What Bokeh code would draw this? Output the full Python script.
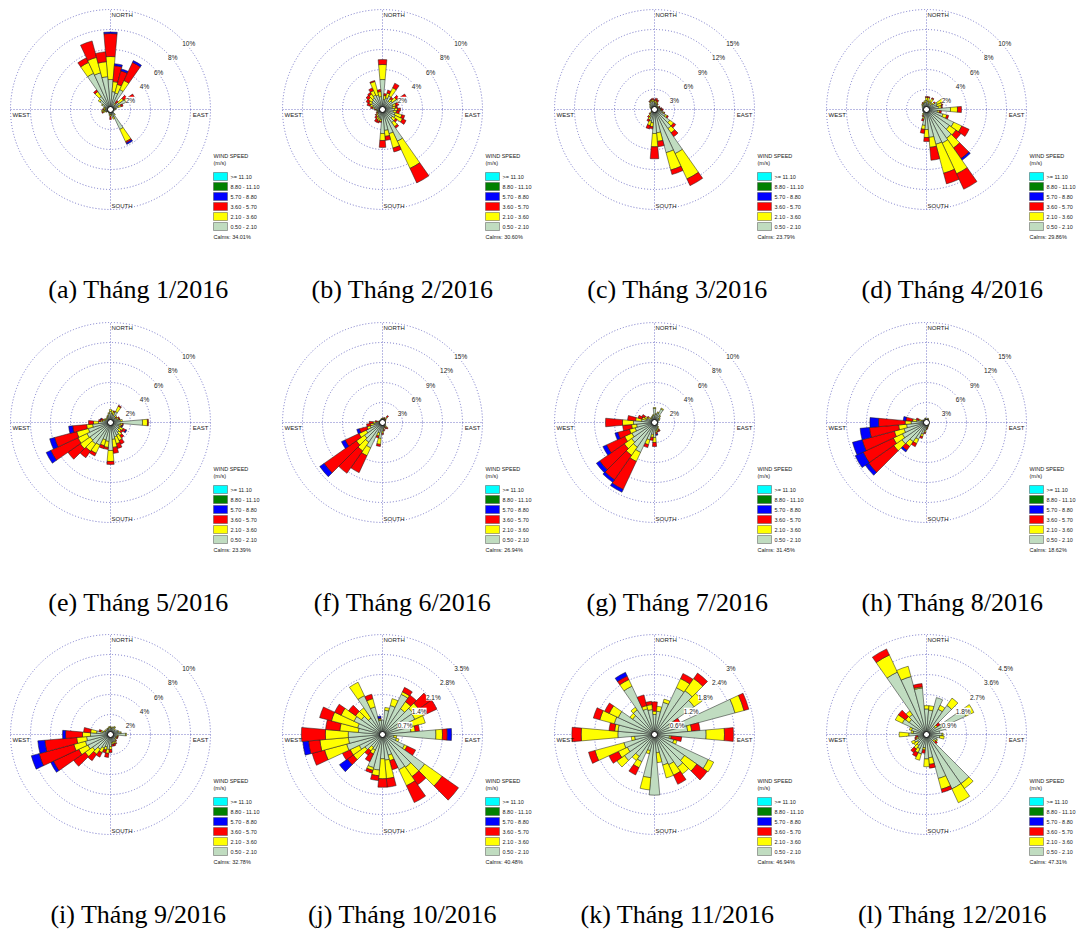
import math
from bokeh.plotting import figure
from bokeh.models import Range1d
from bokeh.core.properties import value
from bokeh.embed import file_html
from bokeh.resources import INLINE

# ---------------- data ----------------
LETTERS = ["a", "b", "c", "d", "e", "f", "g", "h", "i", "j", "k", "l"]
MONTHS = ["1/2016", "2/2016", "3/2016", "4/2016", "5/2016", "6/2016",
          "7/2016", "8/2016", "9/2016", "10/2016", "11/2016", "12/2016"]
CALMS = ["34.01%", "30.60%", "23.79%", "29.86%", "23.39%", "26.94%",
         "31.45%", "18.62%", "32.78%", "40.48%", "46.94%", "47.31%"]
RING_STEP = [2, 2, 3, 2, 2, 3, 2, 3, 2, 0.7, 0.6, 0.9]
LEGEND_LABELS = [">= 11.10", "8.80 - 11.10", "5.70 - 8.80",
                 "3.60 - 5.70", "2.10 - 3.60", "0.50 - 2.10"]
LEGEND_COLORS = ["#00FFFF", "#008000", "#0000FF", "#FF0000", "#FFFF00", "#C0DCC0"]
# speed classes drawn outward: 0.50-2.10, 2.10-3.60, 3.60-5.70, 5.70-8.80
CLASS_COLORS = ["#C0DCC0", "#FFFF00", "#FF0000", "#0000FF"]

# (direction deg, 0.5-2.1, 2.1-3.6, 3.6-5.7, 5.7-8.8) frequency %
JAN = [(0, 3.0, 2.3, 2.3, 0.15), (10, 1.8, 1.0, 1.6, 0.2), (20, 1.7, 0.9, 1.4, 0.2),
       (30, 2.2, 1.0, 2.0, 0.2), (40, 0.6, 0.2, 0.3, 0), (50, 1.0, 0.6, 0.4, 0),
       (60, 1.7, 0.2, 0.8, 0), (70, 0.8, 0.3, 0.2, 0), (80, 0.5, 0.1, 0, 0),
       (90, 0.4, 0.1, 0, 0), (100, 0.4, 0, 0, 0), (110, 0.3, 0, 0, 0),
       (120, 0.3, 0, 0, 0), (130, 0.4, 0, 0, 0), (140, 0.6, 0.1, 0, 0),
       (150, 2.2, 1.35, 0.15, 0.15), (160, 0.8, 0.2, 0, 0), (170, 0.5, 0.1, 0, 0),
       (180, 0.5, 0.2, 0.3, 0), (190, 0.5, 0.1, 0, 0), (200, 0.4, 0, 0, 0),
       (210, 0.3, 0.1, 0, 0), (220, 0.3, 0, 0, 0), (230, 0.3, 0, 0, 0),
       (240, 0.4, 0.1, 0, 0), (250, 0.5, 0.3, 0.1, 0), (260, 0.6, 0.3, 0, 0),
       (270, 0.5, 0.2, 0.1, 0), (280, 0.5, 0.2, 0, 0), (290, 0.6, 0.1, 0, 0),
       (300, 0.9, 0.1, 0, 0), (310, 1.3, 0.2, 0, 0), (320, 1.6, 0.6, 0.2, 0),
       (330, 4.0, 1.2, 0.5, 0), (340, 3.8, 1.6, 1.7, 0), (350, 3.3, 1.5, 1.0, 0)]
FEB = [(0, 3.0, 1.5, 0.5, 0), (10, 1.0, 0.4, 0.2, 0), (20, 1.2, 0.5, 0.3, 0),
       (30, 1.5, 0.9, 0.5, 0), (40, 1.0, 0.3, 0.2, 0), (50, 1.2, 0.5, 0.3, 0),
       (60, 1.8, 0.3, 0.6, 0), (70, 1.1, 0.3, 0.3, 0), (80, 1.0, 0.3, 0.2, 0),
       (90, 1.2, 0.3, 0.3, 0), (100, 1.1, 0.3, 0.3, 0), (110, 1.3, 0.7, 0.3, 0),
       (120, 1.4, 0.8, 0.4, 0), (130, 1.2, 0.4, 0.2, 0), (140, 1.6, 0.5, 0.2, 0),
       (150, 3.5, 3.0, 1.6, 0), (160, 2.5, 1.5, 0.4, 0), (170, 2.1, 0.6, 0.4, 0),
       (180, 2.4, 0.7, 0.7, 0), (190, 1.0, 0.2, 0.1, 0), (200, 0.9, 0.3, 0.2, 0),
       (210, 0.8, 0.3, 0.3, 0), (220, 0.7, 0.2, 0.2, 0), (230, 0.6, 0.2, 0.1, 0),
       (240, 0.5, 0.1, 0.1, 0), (250, 0.5, 0.1, 0, 0), (260, 0.5, 0.1, 0, 0),
       (270, 0.6, 0.1, 0.1, 0), (280, 0.8, 0.2, 0.2, 0), (290, 1.0, 0.3, 0.3, 0),
       (300, 1.2, 0.3, 0.3, 0), (310, 1.3, 0.4, 0.3, 0), (320, 1.4, 0.5, 0.2, 0),
       (330, 1.6, 0.5, 0.3, 0), (340, 1.5, 1.4, 0.1, 0), (350, 1.3, 0.5, 0.2, 0)]
MAR = [(0, 1.0, 0.3, 0.2, 0), (10, 1.0, 0.4, 0.3, 0), (20, 0.9, 0.3, 0.3, 0),
       (30, 0.7, 0.2, 0.1, 0), (40, 0.6, 0.1, 0, 0), (50, 0.5, 0.1, 0, 0),
       (60, 0.7, 0.1, 0.1, 0), (70, 0.6, 0.1, 0.1, 0), (80, 0.8, 0.1, 0.2, 0),
       (90, 0.9, 0.1, 0.3, 0), (100, 0.9, 0.2, 0.1, 0), (110, 1.3, 0.2, 0.1, 0),
       (120, 1.8, 0.3, 0.2, 0), (130, 2.8, 0.7, 0.4, 0), (140, 3.5, 0.8, 0.7, 0),
       (150, 7.3, 4.2, 1.1, 0), (160, 6.7, 2.7, 0.7, 0), (170, 3.5, 1.3, 0.8, 0),
       (180, 3.6, 2.0, 1.8, 0), (190, 2.0, 0.6, 0.3, 0), (200, 1.8, 0.7, 0.5, 0),
       (210, 1.3, 0.4, 0.3, 0), (220, 1.0, 0.3, 0.2, 0), (230, 0.7, 0.2, 0.1, 0),
       (240, 0.5, 0.1, 0, 0), (250, 0.5, 0, 0, 0), (260, 0.4, 0, 0, 0),
       (270, 0.5, 0, 0, 0), (280, 0.5, 0, 0, 0), (290, 0.6, 0.1, 0, 0),
       (300, 0.7, 0.1, 0, 0), (310, 0.8, 0.1, 0, 0), (320, 1.0, 0.1, 0, 0),
       (330, 1.2, 0.2, 0.1, 0), (340, 1.3, 0.2, 0.1, 0), (350, 1.2, 0.3, 0.2, 0)]
APR = [(0, 0.9, 0.3, 0.1, 0), (10, 0.8, 0.4, 0.1, 0), (20, 0.6, 0.3, 0, 0),
       (30, 0.8, 0.4, 0.1, 0), (40, 0.6, 0.2, 0, 0), (50, 0.8, 0.2, 0.1, 0),
       (60, 1.2, 0.8, 0, 0), (70, 1.1, 0.5, 0.1, 0), (80, 1.2, 0.3, 0.1, 0),
       (90, 2.4, 0.7, 0.4, 0), (100, 1.1, 0.2, 0.2, 0), (110, 1.7, 0.4, 0.2, 0),
       (120, 3.0, 0.9, 0.8, 0), (130, 2.8, 0.8, 0.6, 0), (140, 3.5, 1.2, 1.3, 0.2),
       (150, 3.7, 3.4, 1.7, 0), (160, 3.6, 3.0, 1.1, 0), (170, 2.8, 1.0, 1.3, 0),
       (180, 2.0, 0.8, 0.4, 0), (190, 1.6, 0.4, 0.4, 0), (200, 0.8, 0.2, 0.2, 0),
       (210, 0.6, 0.1, 0.1, 0), (220, 0.5, 0.1, 0, 0), (230, 0.4, 0, 0, 0),
       (240, 0.4, 0, 0, 0), (250, 0.4, 0, 0, 0), (260, 0.4, 0, 0, 0),
       (270, 0.4, 0, 0, 0), (280, 0.4, 0, 0, 0), (290, 0.4, 0, 0, 0),
       (300, 0.5, 0, 0, 0), (310, 0.5, 0.1, 0, 0), (320, 0.6, 0.1, 0, 0),
       (330, 0.6, 0.1, 0.1, 0), (340, 0.7, 0.1, 0, 0), (350, 0.7, 0.2, 0, 0)]
MAY = [(0, 1.1, 0.2, 0, 0), (10, 0.9, 0.3, 0, 0), (20, 0.8, 0.3, 0.1, 0),
       (30, 1.2, 0.6, 0.1, 0), (40, 0.7, 0.2, 0, 0), (50, 0.6, 0.1, 0.1, 0),
       (60, 0.7, 0.2, 0.1, 0), (70, 0.8, 0.1, 0.1, 0), (80, 1.0, 0.2, 0, 0),
       (90, 3.2, 0.5, 0.1, 0), (100, 1.0, 0.2, 0.1, 0), (110, 0.9, 0.2, 0.1, 0.05),
       (120, 1.0, 0.4, 0.3, 0.1), (130, 1.0, 0.3, 0.2, 0), (140, 1.2, 0.4, 0.3, 0),
       (150, 1.4, 0.6, 0.4, 0), (160, 1.5, 0.7, 0.5, 0), (170, 1.7, 0.8, 0.6, 0),
       (180, 2.8, 1.1, 0.3, 0), (190, 1.9, 0.6, 0.2, 0), (200, 1.8, 0.6, 0.3, 0),
       (210, 2.5, 0.9, 0.3, 0), (220, 2.6, 0.9, 0.8, 0), (230, 2.5, 1.2, 1.5, 0),
       (240, 2.6, 1.0, 3.0, 0.5), (250, 2.3, 1.2, 2.3, 0.5), (260, 1.8, 0.6, 1.4, 0.4),
       (270, 1.2, 0.5, 0.5, 0), (280, 0.8, 0.2, 0.2, 0), (290, 0.6, 0.2, 0.2, 0.05),
       (300, 0.6, 0.1, 0, 0), (310, 0.5, 0.1, 0, 0), (320, 0.5, 0.1, 0, 0),
       (330, 0.6, 0.1, 0, 0), (340, 0.7, 0.1, 0, 0), (350, 0.9, 0.1, 0, 0)]
JUN = [(0, 0.6, 0.1, 0, 0), (10, 0.5, 0.1, 0, 0), (20, 0.6, 0.1, 0.1, 0),
       (30, 0.5, 0.1, 0.1, 0), (40, 0.7, 0.3, 0.3, 0), (50, 0.5, 0.1, 0.1, 0),
       (60, 0.4, 0.1, 0, 0), (70, 0.4, 0, 0, 0), (80, 0.3, 0, 0, 0),
       (90, 0.4, 0, 0, 0), (100, 0.3, 0, 0, 0), (110, 0.3, 0, 0, 0),
       (120, 0.4, 0, 0, 0), (130, 0.5, 0.1, 0, 0), (140, 0.8, 0.2, 0.2, 0),
       (150, 0.7, 0.2, 0.2, 0), (160, 0.6, 0.1, 0.1, 0), (170, 0.9, 0.2, 0.2, 0),
       (180, 1.3, 0.3, 0.2, 0), (190, 2.4, 0.9, 0.3, 0), (200, 1.6, 0.5, 0.3, 0),
       (210, 4.2, 1.3, 2.8, 0), (220, 3.6, 1.6, 4.1, 0), (230, 3.3, 1.5, 5.9, 0.8),
       (240, 2.7, 1.2, 2.3, 0.6), (250, 1.9, 0.5, 1.2, 0.4), (260, 1.3, 0.5, 0.6, 0),
       (270, 1.0, 0.4, 0.6, 0), (280, 0.6, 0.2, 0.3, 0), (290, 0.5, 0.1, 0, 0),
       (300, 0.4, 0.1, 0, 0), (310, 0.4, 0, 0, 0), (320, 0.4, 0, 0, 0),
       (330, 0.5, 0, 0, 0), (340, 0.5, 0.1, 0, 0), (350, 0.5, 0.1, 0, 0)]
JUL = [(0, 1.4, 0.1, 0, 0), (10, 0.8, 0.1, 0, 0), (20, 1.0, 0.1, 0, 0),
       (30, 1.5, 0.1, 0, 0), (40, 0.8, 0.1, 0, 0), (50, 0.6, 0.1, 0, 0),
       (60, 0.5, 0.1, 0, 0), (70, 0.4, 0, 0, 0), (80, 0.3, 0, 0, 0),
       (90, 0.4, 0, 0, 0), (100, 0.3, 0, 0, 0), (110, 0.3, 0, 0, 0),
       (120, 0.4, 0, 0, 0), (130, 0.4, 0, 0, 0), (140, 0.5, 0.1, 0, 0),
       (150, 0.6, 0.2, 0.2, 0), (160, 0.7, 0.2, 0.1, 0), (170, 0.8, 0.2, 0.2, 0.1),
       (180, 1.5, 0.5, 0.4, 0), (190, 1.2, 0.3, 0.3, 0), (200, 1.8, 0.5, 0.3, 0),
       (210, 3.3, 1.0, 3.1, 0.3), (220, 3.0, 1.0, 3.0, 0.3), (230, 2.8, 0.9, 3.0, 0.4),
       (240, 2.5, 0.8, 2.0, 0.4), (250, 2.0, 0.6, 1.2, 0.3), (260, 1.8, 0.5, 0.9, 0),
       (270, 2.1, 1.1, 1.7, 0), (280, 1.3, 0.6, 0.8, 0), (290, 0.9, 0.4, 0.4, 0),
       (300, 0.8, 0.3, 0.3, 0), (310, 0.6, 0.2, 0.1, 0), (320, 0.5, 0.1, 0, 0),
       (330, 0.5, 0.1, 0, 0), (340, 0.6, 0.1, 0, 0), (350, 0.7, 0.1, 0, 0)]
AUG = [(0, 0.5, 0, 0, 0), (10, 0.5, 0, 0, 0), (20, 0.6, 0.1, 0, 0),
       (30, 0.5, 0.1, 0, 0), (40, 0.4, 0, 0, 0), (50, 0.4, 0, 0, 0),
       (60, 0.4, 0, 0, 0), (70, 0.3, 0, 0, 0), (80, 0.3, 0, 0, 0),
       (90, 0.3, 0, 0, 0), (100, 0.3, 0, 0, 0), (110, 0.3, 0, 0, 0),
       (120, 0.3, 0, 0, 0), (130, 0.3, 0, 0, 0), (140, 0.4, 0.1, 0, 0),
       (150, 0.5, 0.1, 0, 0), (160, 0.6, 0.1, 0, 0), (170, 0.7, 0.1, 0.1, 0),
       (180, 0.8, 0.2, 0.1, 0), (190, 1.2, 0.3, 0.2, 0), (200, 1.8, 0.4, 0.3, 0),
       (210, 2.8, 0.7, 0.5, 0), (220, 3.5, 0.9, 0.7, 0.3), (230, 4.5, 1.5, 4.6, 0.6),
       (240, 4.0, 1.5, 5.0, 1.3), (250, 3.5, 1.5, 5.0, 1.5), (260, 3.0, 1.2, 4.4, 1.4),
       (270, 2.3, 0.9, 4.0, 1.3), (280, 1.5, 0.6, 1.0, 0.4), (290, 0.8, 0.4, 0.4, 0),
       (300, 0.6, 0.1, 0, 0), (310, 0.5, 0.1, 0, 0), (320, 0.5, 0, 0, 0),
       (330, 0.5, 0, 0, 0), (340, 0.6, 0.1, 0, 0), (350, 0.6, 0.1, 0, 0)]
SEP = [(0, 0.7, 0.1, 0, 0), (10, 0.6, 0.1, 0, 0), (20, 0.7, 0.1, 0, 0),
       (30, 0.8, 0.1, 0, 0), (40, 0.6, 0.1, 0, 0), (50, 0.6, 0, 0, 0),
       (60, 0.8, 0, 0, 0), (70, 0.8, 0.1, 0, 0), (80, 1.0, 0.1, 0, 0),
       (90, 1.5, 0.1, 0, 0), (100, 0.7, 0.1, 0, 0), (110, 0.6, 0.1, 0.1, 0),
       (120, 0.6, 0.1, 0.1, 0), (130, 0.6, 0.1, 0, 0), (140, 0.7, 0.1, 0.1, 0),
       (150, 0.8, 0.2, 0.1, 0), (160, 0.8, 0.2, 0.2, 0), (170, 0.8, 0.2, 0.2, 0),
       (180, 1.2, 0.3, 0.3, 0), (190, 1.5, 0.4, 0.4, 0), (200, 1.3, 0.3, 0.3, 0),
       (210, 1.5, 0.5, 0.5, 0), (220, 1.8, 0.6, 0.8, 0), (230, 2.2, 0.9, 1.4, 0),
       (240, 2.5, 1.0, 2.8, 0.3), (250, 2.6, 1.2, 3.6, 0.8), (260, 2.4, 1.0, 3.2, 0.7),
       (270, 2.0, 0.8, 1.7, 0.3), (280, 1.4, 0.6, 0.7, 0), (290, 0.8, 0.2, 0.2, 0),
       (300, 0.6, 0.1, 0, 0), (310, 0.6, 0.1, 0, 0), (320, 0.6, 0, 0, 0),
       (330, 0.6, 0.1, 0, 0), (340, 0.6, 0.1, 0, 0), (350, 0.7, 0.1, 0, 0)]
OCT = [(0, 0.5, 0, 0, 0), (10, 0.85, 0.1, 0, 0), (20, 1.05, 0.25, 0, 0),
       (30, 1.55, 0.1, 0.17, 0), (40, 1.1, 0.3, 0.28, 0), (50, 1.3, 0.25, 0.5, 0),
       (60, 1.25, 0.35, 0.5, 0), (70, 1.0, 0.55, 0, 0), (80, 1.0, 0.15, 0.15, 0),
       (90, 1.87, 0.23, 0.17, 0.15), (100, 0.4, 0.1, 0, 0), (110, 0.5, 0.1, 0, 0),
       (120, 0.85, 0.1, 0.33, 0), (130, 1.8, 0.75, 0.7, 0), (140, 1.4, 0.4, 0.35, 0),
       (150, 1.36, 0.62, 0.65, 0), (160, 0.75, 0.2, 0.33, 0), (170, 0.9, 0.65, 0.3, 0),
       (180, 0.85, 0.7, 0.3, 0), (190, 1.25, 0.2, 0.17, 0), (200, 1.2, 0.1, 0.1, 0),
       (210, 0.6, 0.15, 0.3, 0), (220, 0.55, 0.15, 0.18, 0), (230, 0.75, 0.5, 0.25, 0.34),
       (240, 0.9, 0.35, 0.3, 0), (250, 1.3, 0.8, 0.45, 0), (260, 1.2, 1.0, 0.4, 0.2),
       (270, 1.2, 0.8, 0.84, 0), (280, 0.85, 0.65, 0.5, 0), (290, 0.9, 0.95, 0.43, 0),
       (300, 1.1, 0.5, 0.25, 0), (310, 0.9, 0.25, 0.3, 0), (320, 0.7, 0.44, 0, 0),
       (330, 1.5, 0.52, 0, 0), (340, 1.0, 0.3, 0.16, 0), (350, 0.5, 0.05, 0.03, 0.07)]
NOV = [(0, 0.6, 0.1, 0.28, 0), (10, 0.7, 0.15, 0, 0), (20, 1.0, 0.1, 0, 0),
       (30, 1.55, 0.3, 0.17, 0), (40, 1.6, 0.45, 0.2, 0), (50, 1.45, 0.3, 0, 0),
       (60, 0.6, 0.1, 0.15, 0), (70, 2.5, 0.28, 0.15, 0), (80, 1.0, 0.12, 0.25, 0),
       (90, 1.55, 0.55, 0.27, 0), (100, 0.45, 0.05, 0.32, 0), (110, 0.6, 0.1, 0, 0),
       (120, 1.78, 0.18, 0, 0), (130, 1.1, 0.45, 0.38, 0), (140, 1.2, 0.25, 0, 0),
       (150, 1.0, 0.35, 0.3, 0), (160, 0.95, 0.4, 0, 0), (170, 0.55, 0.3, 0, 0),
       (180, 1.82, 0, 0, 0), (190, 1.3, 0.37, 0, 0), (200, 0.5, 0.1, 0, 0),
       (210, 0.9, 0.2, 0.24, 0), (220, 0.8, 0.15, 0, 0), (230, 1.1, 0.28, 0, 0),
       (240, 0.9, 0.3, 0.31, 0), (250, 0.95, 0.9, 0.2, 0), (260, 0.6, 0.1, 0, 0),
       (270, 1.1, 1.1, 0.28, 0), (280, 1.1, 0.1, 0.17, 0), (290, 1.25, 0.45, 0.2, 0),
       (300, 1.2, 0.3, 0.15, 0), (310, 0.8, 0.1, 0, 0), (320, 0.9, 0.1, 0, 0),
       (330, 1.6, 0.22, 0.12, 0.12), (340, 0.8, 0.1, 0.33, 0), (350, 0.75, 0.15, 0.1, 0)]
DEC = [(0, 1.15, 0.15, 0, 0), (10, 1.1, 0.2, 0, 0), (20, 1.72, 0, 0, 0),
       (30, 1.25, 0.2, 0, 0), (40, 1.6, 0.4, 0, 0), (50, 0.5, 0.1, 0.15, 0),
       (60, 1.95, 0.4, 0, 0), (70, 0.9, 0, 0, 0), (80, 0.6, 0, 0, 0),
       (90, 0.7, 0.05, 0, 0), (100, 0.6, 0.2, 0, 0), (110, 0.5, 0, 0, 0),
       (120, 0.5, 0.05, 0, 0), (130, 0.4, 0.1, 0.1, 0), (140, 2.7, 0.27, 0, 0),
       (150, 2.7, 0.69, 0, 0), (160, 2.05, 0.5, 0.15, 0), (170, 1.05, 0.3, 0.17, 0),
       (180, 1.1, 0.35, 0, 0), (190, 0.6, 0.1, 0.15, 0), (200, 0.9, 0.3, 0, 0),
       (210, 0.7, 0.2, 0.2, 0), (220, 0.6, 0.2, 0.2, 0), (230, 0.5, 0.2, 0, 0),
       (240, 0.6, 0.15, 0, 0), (250, 0.4, 0.1, 0.05, 0), (260, 0.4, 0, 0.1, 0),
       (270, 0.8, 0.43, 0, 0), (280, 0.6, 0.1, 0, 0), (290, 0.7, 0.1, 0, 0),
       (300, 1.2, 0.35, 0, 0), (310, 0.95, 0.2, 0.4, 0), (320, 1.1, 0.2, 0, 0),
       (330, 3.1, 0.85, 0.3, 0), (340, 2.7, 0.48, 0, 0), (350, 2.1, 0.05, 0.15, 0)]
ROSES = [JAN, FEB, MAR, APR, MAY, JUN, JUL, AUG, SEP, OCT, NOV, DEC]

# ---------------- layout (page pixels) ----------------
W, H = 1079, 931
COL_X = [110, 382, 654, 926]
ROW_Y = [109, 422, 734]
CAP_DX = [28, 20, 23, 26]
R_OUT = 100.0
RING_COLOR = "#7474c8"
SANS = value("Liberation Sans")

p = figure(width=W, height=H, x_range=Range1d(0, W), y_range=Range1d(0, H),
           output_backend="svg", toolbar_location=None,
           x_axis_location=None, y_axis_location=None, min_border=0)
p.outline_line_color = None
p.grid.visible = False
p.background_fill_color = "white"


def yy(screen_y):
    return H - screen_y


ring_x, ring_y, ring_r = [], [], []
seg = dict(x0=[], y0=[], x1=[], y1=[])
wx, wy, rin, rout, a0, a1, wc = [], [], [], [], [], [], []
lab = dict(x=[], y=[], t=[])
comp_l = dict(x=[], y=[], t=[])
comp_r = dict(x=[], y=[], t=[])
leg_t = dict(x=[], y=[], t=[])
box = dict(l=[], r=[], t=[], b=[], c=[])
cap = dict(x=[], y=[], t=[])
calm_x, calm_y = [], []

half = math.radians(5)
for k in range(12):
    cx = COL_X[k % 4]
    cys = ROW_Y[k // 4]
    cy = yy(cys)
    step = RING_STEP[k]
    scale = R_OUT / (step * 5)
    for i in range(1, 6):
        rr = R_OUT * i / 5
        ring_x.append(cx); ring_y.append(cy); ring_r.append(rr)
        v = round(step * i, 1)
        lab["x"].append(cx + rr * math.cos(math.pi / 4) + 1)
        lab["y"].append(cy + rr * math.sin(math.pi / 4) - 5)
        lab["t"].append(("%g" % v) + "%")
    seg["x0"] += [cx - R_OUT, cx]
    seg["y0"] += [cy, cy - R_OUT]
    seg["x1"] += [cx + R_OUT, cx]
    seg["y1"] += [cy, cy + R_OUT]
    for row in ROSES[k]:
        d = row[0]
        mid = math.radians(90 - d)
        cum = 0.0
        for ci, v in enumerate(row[1:]):
            if v <= 0:
                continue
            wx.append(cx); wy.append(cy)
            rin.append(cum * scale)
            cum += v
            rout.append(cum * scale)
            a0.append(mid - half); a1.append(mid + half)
            wc.append(CLASS_COLORS[ci])
    calm_x.append(cx); calm_y.append(cy)
    comp_l["x"] += [cx + 1, cx + 1, cx - 98]
    comp_l["y"] += [yy(cys - 95), yy(cys + 96), yy(cys + 5)]
    comp_l["t"] += ["NORTH", "SOUTH", "WEST"]
    comp_r["x"].append(cx + 98); comp_r["y"].append(yy(cys + 5)); comp_r["t"].append("EAST")
    lx = cx + 103
    leg_t["x"] += [lx, lx]
    leg_t["y"] += [yy(cys + 46), yy(cys + 53)]
    leg_t["t"] += ["WIND SPEED", "(m/s)"]
    for j, (lt, lc) in enumerate(zip(LEGEND_LABELS, LEGEND_COLORS)):
        top = cys + 63 + 10 * j
        box["l"].append(lx); box["r"].append(lx + 14)
        box["t"].append(yy(top)); box["b"].append(yy(top + 8)); box["c"].append(lc)
        leg_t["x"].append(lx + 17); leg_t["y"].append(yy(top + 4)); leg_t["t"].append(lt)
    leg_t["x"].append(lx); leg_t["y"].append(yy(cys + 127)); leg_t["t"].append("Calms: " + CALMS[k])
    cap["x"].append(cx + CAP_DX[k % 4]); cap["y"].append(yy(cys + 180))
    cap["t"].append("(%s) Tháng %s" % (LETTERS[k], MONTHS[k]))

# rings and cross lines
p.circle(x=ring_x, y=ring_y, radius=ring_r, fill_color=None, line_color=RING_COLOR,
         line_dash="1 2", line_width=1)
p.segment(x0=seg["x0"], y0=seg["y0"], x1=seg["x1"], y1=seg["y1"], line_color=RING_COLOR,
          line_dash="1 2", line_width=1)
# wind rose petals
p.annular_wedge(x=wx, y=wy, inner_radius=rin, outer_radius=rout, start_angle=a0, end_angle=a1,
                fill_color=wc, line_color="#1a1a1a", line_width=0.5)
# calm circle
p.circle(x=calm_x, y=calm_y, radius=3, fill_color="white", line_color="black", line_width=1)
# ring labels
p.text(x=lab["x"], y=lab["y"], text=lab["t"], text_font=SANS, text_font_size="6.5px",
       text_align="left", text_baseline="middle", text_color="#222222",
       background_fill_color="white")
# compass labels
p.text(x=comp_l["x"], y=comp_l["y"], text=comp_l["t"], text_font=SANS, text_font_size="6px",
       text_align="left", text_baseline="middle", text_color="#222222")
p.text(x=comp_r["x"], y=comp_r["y"], text=comp_r["t"], text_font=SANS, text_font_size="6px",
       text_align="right", text_baseline="middle", text_color="#222222")
# legend
p.quad(left=box["l"], right=box["r"], top=box["t"], bottom=box["b"], fill_color=box["c"],
       line_color="#555555", line_width=0.5)
p.text(x=leg_t["x"], y=leg_t["y"], text=leg_t["t"], text_font=SANS, text_font_size="5.5px",
       text_align="left", text_baseline="middle", text_color="#222222")
# captions
p.text(x=cap["x"], y=cap["y"], text=cap["t"], text_font=value("Liberation Serif"),
       text_font_size="26px", text_align="center", text_baseline="middle", text_color="black")

open("out.html", "w").write(file_html(p, INLINE))
